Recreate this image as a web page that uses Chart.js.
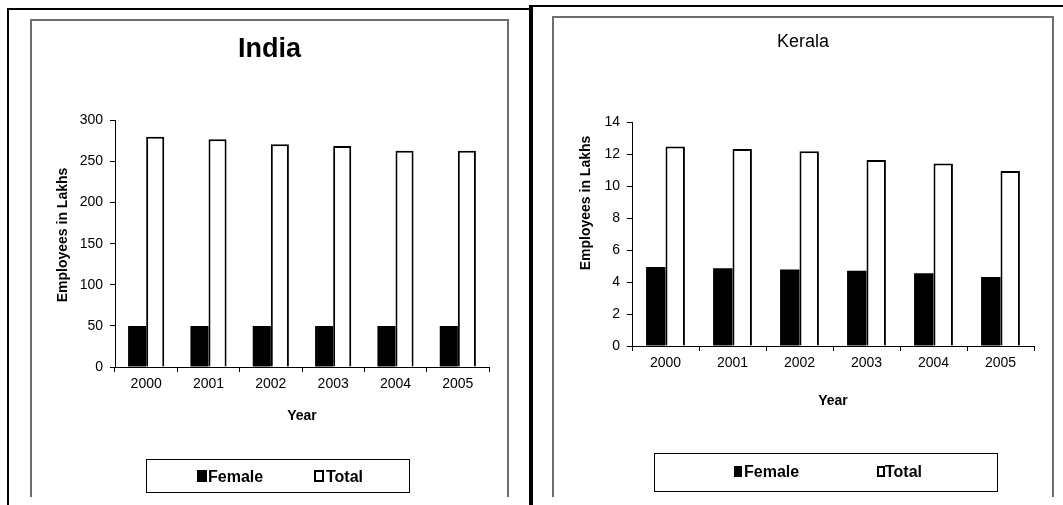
<!DOCTYPE html>
<html>
<head>
<meta charset="utf-8">
<script src="https://cdn.jsdelivr.net/npm/chart.js@4.4.0/dist/chart.umd.min.js"></script>
<style>
  html, body { margin: 0; padding: 0; background: #fff; }
  body { width: 1063px; height: 505px; position: relative; overflow: hidden; }
  .line { position: absolute; background: #000; }
  .frame { position: absolute; border: 2px solid #6e6e6e; border-bottom: none; box-sizing: border-box; }
  canvas { position: absolute; }
</style>
</head>
<body>
<!-- outer panel borders -->
<div class="line" style="left:7px; top:8px; width:2px; height:497px;"></div>
<div class="line" style="left:7px; top:8px; width:523px; height:2px;"></div>
<div class="line" style="left:529px; top:5px; width:4px; height:500px;"></div>
<div class="line" style="left:529px; top:5px; width:534px; height:2px;"></div>
<!-- chart frames -->
<div class="frame" style="left:30px; top:19px; width:479px; height:478px;"></div>
<div class="frame" style="left:552px; top:16px; width:502px; height:481px;"></div>

<canvas id="india" width="475" height="476" style="left:32px; top:21px;"></canvas>
<canvas id="kerala" width="498" height="479" style="left:554px; top:18px;"></canvas>

<script>
const years = ['2000', '2001', '2002', '2003', '2004', '2005'];
const seriesNames = ['Female', 'Total'];

const indiaFemale = [50, 50, 50, 50, 50, 50];
const indiaTotal = [280, 277, 271, 269, 263, 263];

const keralaFemale = [4.95, 4.87, 4.8, 4.72, 4.56, 4.33];
const keralaTotal = [12.5, 12.35, 12.2, 11.65, 11.43, 10.97];

const yTitle = 'Employees in Lakhs';
const xTitle = 'Year';

Chart.defaults.font.family = 'Arial, "Liberation Sans", sans-serif';
Chart.defaults.color = '#000';

// boxed legend + y axis title, drawn after the chart
const boxedLegend = {
  id: 'boxedLegend',
  afterDraw(chart, args, opts) {
    const ctx = chart.ctx;
    ctx.save();

    // y axis title, rotated
    ctx.font = 'bold 14px Arial, "Liberation Sans", sans-serif';
    ctx.fillStyle = '#000';
    ctx.textAlign = 'center';
    ctx.textBaseline = 'middle';
    ctx.translate(opts.yTitleX, opts.yTitleY);
    ctx.rotate(-Math.PI / 2);
    ctx.fillText(yTitle, 0, 0);
    ctx.setTransform(1, 0, 0, 1, 0, 0);

    // legend frame
    const [bx, by, bw, bh] = opts.box;
    ctx.strokeStyle = '#000';
    ctx.lineWidth = 1;
    ctx.strokeRect(bx + 0.5, by + 0.5, bw, bh);

    ctx.font = 'bold 16px Arial, "Liberation Sans", sans-serif';
    ctx.textAlign = 'left';
    ctx.textBaseline = 'alphabetic';
    chart.data.datasets.forEach((ds, i) => {
      const kx = opts.keyX[i];
      const [kw, kh] = opts.keySize;
      ctx.fillStyle = '#000';
      ctx.fillRect(kx, opts.keyY, kw, kh);
      if (ds.backgroundColor !== '#000') {
        ctx.fillStyle = ds.backgroundColor;
        ctx.fillRect(kx + 2, opts.keyY + 2, kw - 4, kh - 4);
      }
      ctx.fillStyle = '#000';
      ctx.fillText(ds.label, opts.textX[i], opts.baseline);
    });
    ctx.restore();
  }
};

function makeChart(id, female, total, cfg) {
  return new Chart(document.getElementById(id), {
    type: 'bar',
    data: {
      labels: years,
      datasets: [
        {
          label: seriesNames[0],
          data: female,
          backgroundColor: '#000',
          borderColor: '#000',
          borderWidth: 0,
          categoryPercentage: 0.58,
          barPercentage: 1.0
        },
        {
          label: seriesNames[1],
          data: total,
          backgroundColor: '#fff',
          borderColor: '#000',
          borderWidth: 2,
          borderSkipped: 'bottom',
          categoryPercentage: 0.58,
          barPercentage: 1.0
        }
      ]
    },
    options: {
      responsive: false,
      animation: false,
      devicePixelRatio: 1,
      layout: { padding: { left: 18, right: 18, top: 0, bottom: cfg.bottomPad } },
      scales: {
        x: {
          offset: true,
          grid: { offset: true, drawOnChartArea: false, drawTicks: true, tickLength: 5, color: '#000' },
          border: { color: '#000', width: 1 },
          ticks: { padding: 4, color: '#000', font: { size: 14 } },
          title: { display: true, text: xTitle, color: '#000', font: { size: 14, weight: 'bold' }, padding: { top: 0, bottom: 2 } },
          afterFit: s => { s.height = cfg.xHeight; }
        },
        y: {
          min: 0,
          max: cfg.yMax,
          ticks: { stepSize: cfg.yStep, padding: 7, color: '#000', font: { size: 14 } },
          grid: { drawOnChartArea: false, drawTicks: true, tickLength: 5, color: '#000' },
          border: { color: '#000', width: 1 },
          afterFit: s => { s.width = cfg.yWidth; }
        }
      },
      plugins: {
        legend: { display: false },
        tooltip: { enabled: false },
        title: {
          display: true,
          text: cfg.title,
          color: '#000',
          font: cfg.titleFont,
          padding: cfg.titlePad
        },
        boxedLegend: cfg.legend
      }
    },
    plugins: [boxedLegend]
  });
}

makeChart('india', indiaFemale, indiaTotal, {
  title: 'India',
  titleFont: { size: 27, weight: 'bold' },
  titlePad: { top: 12, bottom: 55 },
  yMax: 300, yStep: 50,
  yWidth: 65, xHeight: 60, bottomPad: 70,
  legend: {
    yTitleX: 31, yTitleY: 214,
    box: [114, 438, 263, 33],
    keyX: [165, 282], keyY: 449, keySize: [10, 12],
    textX: [176, 294], baseline: 461
  }
});

makeChart('kerala', keralaFemale, keralaTotal, {
  title: 'Kerala',
  titleFont: { size: 18, weight: 'normal' },
  titlePad: { top: 13, bottom: 70 },
  yMax: 14, yStep: 2,
  yWidth: 60, xHeight: 66, bottomPad: 85,
  legend: {
    yTitleX: 32, yTitleY: 185,
    box: [100, 435, 343, 38],
    keyX: [180, 323], keyY: 448, keySize: [8, 11],
    textX: [190, 331], baseline: 459
  }
});
</script>
</body>
</html>
